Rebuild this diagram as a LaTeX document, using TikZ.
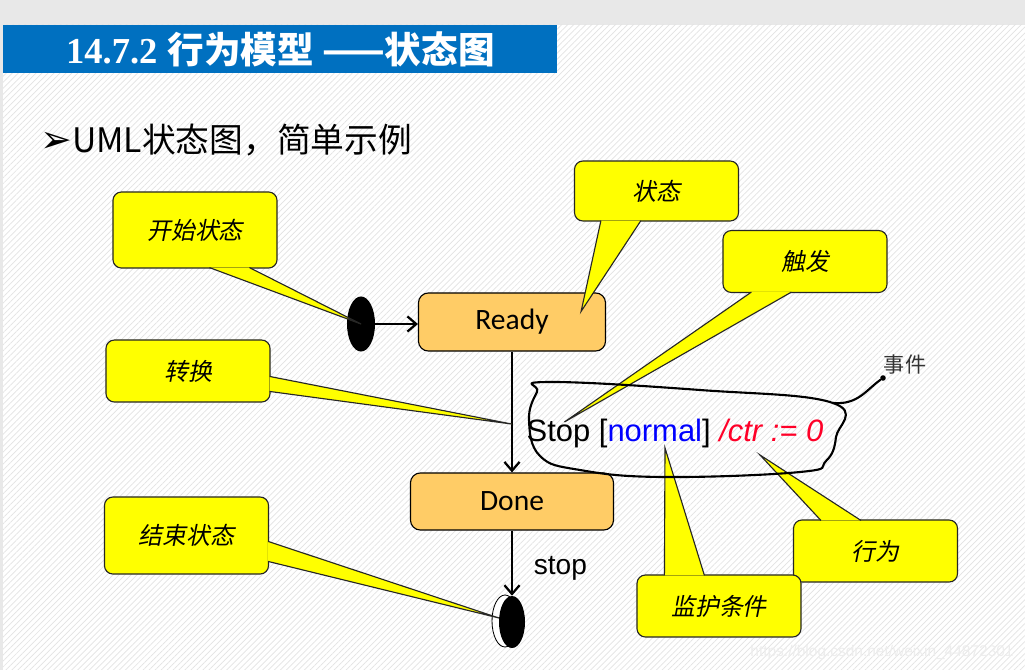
\documentclass[tikz,border=0pt]{standalone}
\usepackage{fontspec}
\setmainfont{Liberation Sans}
\newfontfamily\cjk{Noto Sans CJK SC}
\newfontfamily\cjkit{Noto Sans CJK SC}[FakeSlant=0.2]
\newfontfamily\calibri{Carlito}
\newfontfamily\titlenum{Liberation Serif}
\newfontfamily\dingfont{DejaVu Sans}
\usepackage{tikz}
\usetikzlibrary{arrows.meta,positioning,calc,shapes.geometric,patterns.meta}
\definecolor{titleblue}{RGB}{0,112,192}
\definecolor{stateorange}{RGB}{255,204,102}
\definecolor{noteyellow}{RGB}{255,255,0}
\definecolor{ctrred}{RGB}{255,0,40}
\newcommand{\fsz}[1]{\fontsize{#1}{#1}\selectfont}

\begin{document}
\begin{tikzpicture}[x=0.025cm, y=-0.025cm,
  state/.style={draw, fill=stateorange, rounded corners=7pt, line width=0.8pt, minimum width=4.675cm, minimum height=1.45cm, font=\calibri\fsz{21}},
  note/.style={draw=black!85, fill=noteyellow, rounded corners=6pt, line width=0.8pt, minimum width=4.1cm, minimum height=1.55cm, font=\cjkit\fsz{17}},
  pointer/.style={fill=noteyellow, draw=black!85, line width=0.8pt, line join=miter},
  arrow/.style={-{Straight Barb[length=2.2mm, width=3.8mm]}, line width=1.6pt},
  pseudo/.style={ellipse, fill=black, inner sep=0pt, minimum width=0.7cm, minimum height=1.375cm},
  scrawl/.style={line width=1.5pt, line cap=round, line join=round}
]
\useasboundingbox (0,0) rectangle (1025,670);

% slide background
\fill[gray!18] (0,0) rectangle (1025,670);
\fill[white] (3,25) rectangle (1025,670);
\fill[pattern={Lines[angle=45, distance=3pt, line width=0.5pt]}, pattern color=gray!22] (3,25) rectangle (1025,670);

\node[fill=titleblue, text=white, anchor=north west, inner sep=0pt, minimum width=13.85cm, minimum height=1.2cm] (title) at (3,25)
  {\fsz{26}{\titlenum\bfseries 14.7.2} {\cjk\bfseries 行为模型 ——状态图}};
\node[anchor=west, inner sep=0pt, font=\fsz{24}] (bullet) at (40,140) {{\dingfont\fsz{27}➢}\cjk UML状态图，简单示例};

% states
\node[state] (ready) at (512,322) {Ready};
\node[state, minimum width=5.075cm, minimum height=1.425cm] (done) at (512,501.5) {Done};
\node[pseudo] (init) at (361,324) {};
\node[pseudo, fill=white, draw, line width=0.6pt, minimum width=0.65cm, minimum height=1.3cm] (finalrim) at (505,621) {};
\node[pseudo, minimum width=0.65cm, minimum height=1.3cm] (final) at (512,622) {};

\draw[arrow] (init.east) -- (init.east -| ready.west);
\draw[arrow] (ready) -- (done);
\draw[arrow] (done) -- (final) node[midway, right=0.4cm, yshift=-4pt, font=\fsz{20}] (stoplbl) {stop};

\node[font=\fsz{22}, inner sep=0pt] (evt) at (675,433)
  {Stop [\textcolor{blue}{normal}] \textcolor{ctrred}{\itshape /ctr := 0}};

\coordinate (trans) at ($(ready.south)!0.6!(done.north)$);
\coordinate (readytip) at ([shift={(-25,19)}]ready.north east);
\coordinate (trigtip) at ([shift={(38,-11)}]evt.west);
\coordinate (guardtip) at (665,448);
\coordinate (acttip) at (760,455);

% callouts
\node[note, minimum height=1.9cm] (startnote) at (195,230) {开始状态};
\filldraw[pointer] ([shift={(97,-1)}]startnote.south west) -- (init.center) -- ([shift={(137,-1)}]startnote.south west);

\node[note, minimum height=1.5cm] (statenote) at (656.5,191) {状态};
\filldraw[pointer] ([shift={(27,-1)}]statenote.south west) -- (readytip) -- ([shift={(67,-1)}]statenote.south west);

\node[note] (trignote) at (805,261.5) {触发};
\filldraw[pointer] ([shift={(29,-1)}]trignote.south west) -- (trigtip) -- ([shift={(69,-1)}]trignote.south west);

\node[note] (transnote) at (188,371) {转换};
\filldraw[pointer] ([shift={(-1,37)}]transnote.north east) -- (trans) -- ([shift={(-1,52)}]transnote.north east);

\node[note, minimum height=1.925cm] (endnote) at (186.5,535.5) {结束状态};
\filldraw[pointer] ([shift={(-1,45)}]endnote.north east) -- ([shift={(-13,-4)}]final.center) -- ([shift={(-1,65)}]endnote.north east);

\node[note] (actnote) at (875.5,551) {行为};
\filldraw[pointer] ([shift={(28,1)}]actnote.north west) -- (acttip) -- ([shift={(68,1)}]actnote.north west);

\node[note] (guardnote) at (719,606) {监护条件};
\filldraw[pointer] ([shift={(28,1)}]guardnote.north west) -- (guardtip) -- ([shift={(68,1)}]guardnote.north west);

% hand-drawn ring round the transition text
\draw[scrawl] plot[smooth cycle, tension=0.7] coordinates {(548,382) (700,390) (833,403) (836,437) (826,461) (800,472) (663,477) (580,470) (540,456) (529,420) (537,392)};
\node[circle, fill, inner sep=1.4pt] (evtdot) at (883,378) {};
\coordinate (ringedge) at (833,403);
\draw[scrawl] (ringedge) .. controls (858,405) and (866,390) .. (evtdot);
\node[font=\cjk\fsz{15}, text=black!80] (evtlbl) at (905,365) {事件};

\node[font=\fsz{11}, text=gray!14] (mark) at (882,652) {https://blog.csdn.net/weixin\_44872301};
\end{tikzpicture}
\end{document}
